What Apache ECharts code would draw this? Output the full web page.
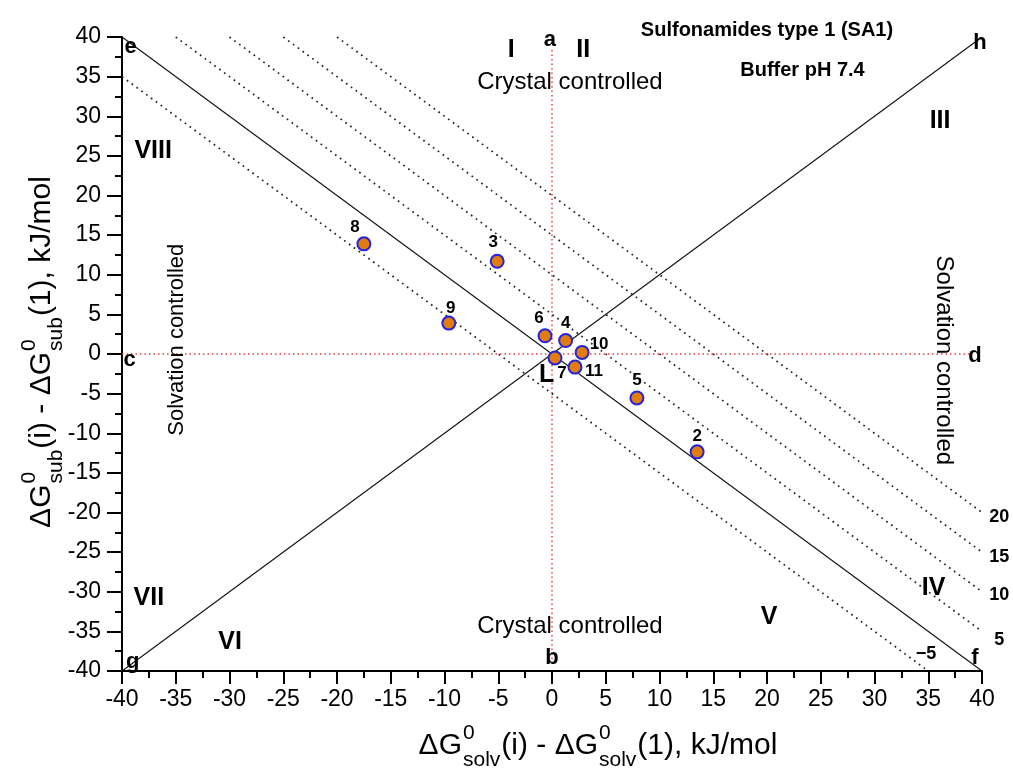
<!DOCTYPE html>
<html>
<head>
<meta charset="utf-8">
<script src="https://cdn.jsdelivr.net/npm/echarts@6/dist/echarts.min.js"></script>
<style>
html,body{margin:0;padding:0;background:#fff;}
#chart{width:1013px;height:771px;}
</style>
</head>
<body>
<div id="chart"></div>
<script>
// ---------- data ----------
const pointNames = ['8', '3', '9', '6', '4', '10', '7', '11', '5', '2'];
const solvVals   = [-17.5, -5.1, -9.6, -0.65, 1.27, 2.8, 0.28, 2.14, 7.9, 13.5];
const subVals    = [13.9, 11.7, 3.9, 2.3, 1.7, 0.2, -0.5, -1.65, -5.55, -12.35];
const isoOffsets = [20, 15, 10, 5, -5];           // dotted lines y = -x + c
const axisMin = -40, axisMax = 40, axisStep = 5;

// annotation texts (placed in data coordinates)
const annoText = ['e','h','a','I','II','Crystal controlled','III','VIII','c','d','VII','VI','g','b','Crystal controlled','V','IV','f','\u22125','20','15','10','5','Sulfonamides type 1 (SA1)','Buffer pH 7.4','L','Solvation controlled','Solvation controlled'];
const annoX    = [-39.2, 39.8, -0.2, -3.8, 2.9, 1.67, 36.1, -37.1, -39.3, 39.35, -37.5, -29.95, -39.0, 0.0, 1.67, 20.2, 35.5, 39.35, 34.8, 41.6, 41.6, 41.6, 41.6, 20.0, 23.3, -0.5, -34.9, 36.4];
const annoY    = [38.8, 39.3, 39.6, 38.3, 38.3, 34.3, 29.4, 25.6, -0.7, -0.2, -30.8, -36.3, -38.8, -38.3, -34.4, -33.2, -29.6, -38.3, -37.8, -20.6, -25.6, -30.4, -36.1, 40.8, 35.8, -2.7, 1.8, -0.8];

// ---------- styles ----------
const FONT = 'Liberation Sans, Arial, sans-serif';
const annoStyle = [
  {s:22,w:'bold'},{s:22,w:'bold'},{s:22,w:'bold'},{s:25,w:'bold'},{s:25,w:'bold'},
  {s:24,w:'normal'},{s:25,w:'bold'},{s:25,w:'bold'},{s:22,w:'bold'},{s:22,w:'bold'},
  {s:25,w:'bold'},{s:25,w:'bold'},{s:22,w:'bold'},{s:22,w:'bold'},{s:24,w:'normal'},
  {s:25,w:'bold'},{s:25,w:'bold'},{s:22,w:'bold'},{s:18,w:'bold'},{s:18,w:'bold'},
  {s:18,w:'bold'},{s:18,w:'bold'},{s:18,w:'bold'},{s:20,w:'bold'},{s:20,w:'bold'},
  {s:25,w:'bold'},{s:22,w:'normal',r:Math.PI/2},{s:24,w:'normal',r:-Math.PI/2}
];
const pointLabelOffset = {
  '8':[-9,-17], '3':[-4,-19], '9':[2,-15], '6':[-6,-17], '4':[0,-17],
  '10':[17,-8], '7':[7,15], '11':[19,4], '5':[0,-18], '2':[0,-16]
};

// ---------- series ----------
const series = [];
series.push({type:'line', data:[[axisMin,axisMax],[axisMax,axisMin]], symbol:'none', silent:true,
  lineStyle:{color:'#111', width:1.1}, z:2});
series.push({type:'line', data:[[axisMin,axisMin],[axisMax,axisMax]], symbol:'none', silent:true,
  lineStyle:{color:'#111', width:1.1}, z:2});
isoOffsets.forEach(c => {
  const x1 = Math.max(axisMin, c - axisMax), x2 = Math.min(axisMax, c - axisMin);
  series.push({type:'line', data:[[x1, c - x1],[x2, c - x2]], symbol:'none', silent:true,
    lineStyle:{color:'#222', width:1.7, type:[1.7,4.3]}, z:2});
});
series.push({type:'line', data:[[axisMin,0],[axisMax-1,0]], symbol:'none', silent:true,
  lineStyle:{color:'#e5423d', width:1.5, type:[1.5,3]}, z:1});
series.push({type:'line', data:[[0,axisMin+1.5],[0,axisMax-1.5]], symbol:'none', silent:true,
  lineStyle:{color:'#e5423d', width:1.5, type:[1.5,3]}, z:1});

series.push({
  type:'scatter', symbolSize:13, z:5,
  itemStyle:{color:'#e27c0c', borderColor:'#2424dc', borderWidth:2, opacity:1},
  data: pointNames.map((n,i)=>({
    name:n, value:[solvVals[i], subVals[i]],
    label:{show:true, position:'inside', formatter:n, offset:pointLabelOffset[n],
      color:'#000', fontSize:17, fontWeight:'bold', fontFamily:FONT, textBorderWidth:0}
  }))
});

const axisCommon = {
  type:'value', min:axisMin, max:axisMax, interval:axisStep,
  axisLine:{onZero:false, lineStyle:{color:'#000', width:2}},
  axisTick:{show:true, inside:false, lineStyle:{color:'#000', width:2}},
  minorTick:{show:true, splitNumber:2, lineStyle:{color:'#000', width:2}},
  splitLine:{show:false}, minorSplitLine:{show:false},
  axisLabel:{color:'#000', fontSize:23, fontFamily:FONT}
};

const chart = echarts.init(document.getElementById('chart'), null, {renderer:'canvas'});
chart.setOption({
  backgroundColor:'#fff',
  animation:false,
  grid:{left:122, right:31, top:37, bottom:100, containLabel:false},
  xAxis: Object.assign({}, axisCommon, {
    axisTick:Object.assign({}, axisCommon.axisTick, {length:13}),
    minorTick:Object.assign({}, axisCommon.minorTick, {length:7}),
    axisLabel:Object.assign({}, axisCommon.axisLabel, {margin:17})
  }),
  yAxis: Object.assign({}, axisCommon, {
    axisTick:Object.assign({}, axisCommon.axisTick, {length:15}),
    minorTick:Object.assign({}, axisCommon.minorTick, {length:7}),
    axisLabel:Object.assign({}, axisCommon.axisLabel, {margin:21})
  }),
  series: series
});

// ---------- annotations + axis titles as graphics ----------
const mctx = document.createElement('canvas').getContext('2d');
function tw(text, size){ mctx.font = size + 'px ' + FONT; return mctx.measureText(text).width; }
function buildTitle(subTxt, x, y, rotation){
  const big = 30, small = 21;
  const parts = [
    {t:'\u0394G'}, {sup:'0', sub:subTxt}, {t:'(i) - \u0394G'}, {sup:'0', sub:subTxt}, {t:'(1), kJ/mol'}
  ];
  let cur = 0; const els = [];
  parts.forEach(p=>{
    if (p.t){
      els.push({type:'text', x:cur, y:0, style:{text:p.t, font:big+'px '+FONT, fill:'#000', verticalAlign:'middle'}});
      cur += tw(p.t, big);
    } else {
      els.push({type:'text', x:cur+1, y:-13, style:{text:p.sup, font:small+'px '+FONT, fill:'#000', verticalAlign:'middle'}});
      els.push({type:'text', x:cur+1, y:14, style:{text:p.sub, font:small+'px '+FONT, fill:'#000', verticalAlign:'middle'}});
      cur += Math.max(tw(p.sup, small), tw(p.sub, small)) + 2;
    }
  });
  els.forEach(e=>{ e.x -= cur/2; });
  return {type:'group', x:x, y:y, rotation:rotation, children:els};
}
const graphics = annoText.map((t,i)=>{
  const p = chart.convertToPixel({gridIndex:0}, [annoX[i], annoY[i]]);
  const st = annoStyle[i];
  return {type:'text', x:p[0], y:p[1], rotation:st.r || 0, z:10,
    style:{text:t, font:st.w+' '+st.s+'px '+FONT, fill:'#000', align:'center', verticalAlign:'middle'}};
});
graphics.push(buildTitle('solv', 598, 746, 0));
graphics.push(buildTitle('sub', 42, 352, Math.PI/2));
chart.setOption({graphic:graphics});
</script>
</body>
</html>
